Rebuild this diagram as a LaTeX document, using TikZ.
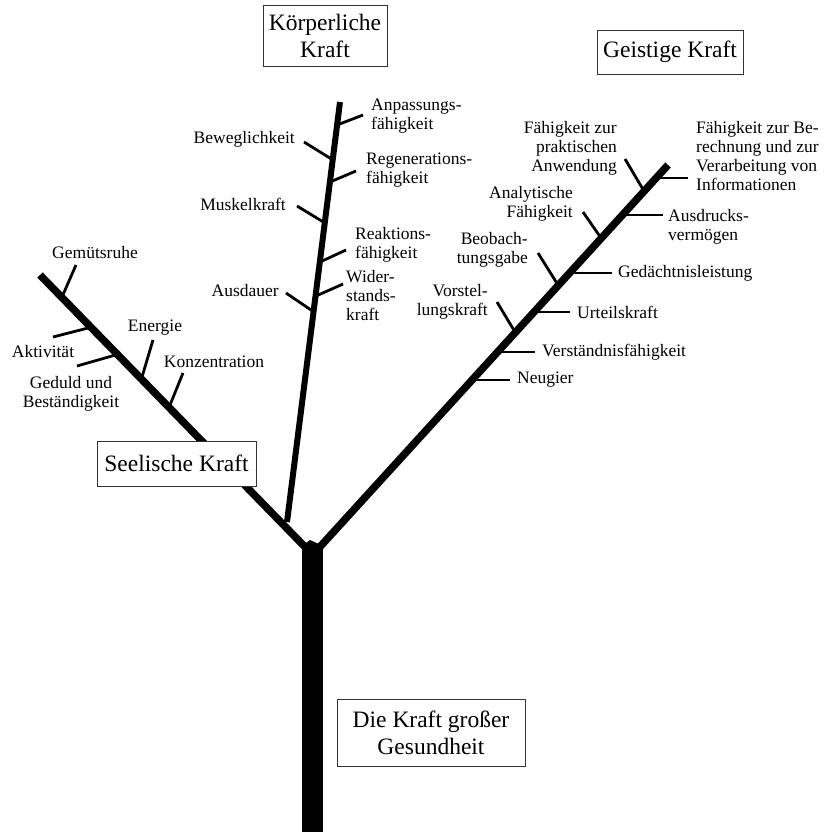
\documentclass[tikz,border=0pt]{standalone}
\usepackage{fontspec}
\setmainfont{Liberation Serif}
\newcommand{\lblfont}{\fontsize{17.5}{19}\selectfont}
\newcommand{\kraftfont}{\fontsize{23.5}{27}\selectfont}
\tikzset{
  twig/.style={line width=2.8pt},
  branch/.style={line width=7.5pt},
  lbl/.style={inner sep=0pt, font=\lblfont},
  kraftbox/.style={draw=black!80, line width=0.9pt, fill=white, inner sep=0pt,
    align=center, font=\kraftfont},
}
\begin{document}
\begin{tikzpicture}[x=1pt,y=-1pt]
\useasboundingbox (0,0) rectangle (828,832);
% stamm und aeste
\coordinate (ltop) at (40,275);
\coordinate (mtop) at (340,102);
\coordinate (mbot) at (287,522);
\coordinate (rtop) at (668,165);
\fill (302,545) rectangle (323,832);
\draw[branch] (307,549)--(ltop);
\draw[branch] (318,549)--(rtop);
\draw[line width=6pt] (mbot)--(mtop);
\fill (302,546)--(310,540)--(323,546)--cycle;
% seelische kraft
\draw[twig] (62,297)--(76,265);
\draw[twig] (92,327)--(53,337);
\draw[twig] (119,354)--(77,366);
\draw[twig] (142,377)--(153,340);
\draw[twig] (170,405)--(183,373);
\node[lbl] (gemuet) at (95,253) {Gemütsruhe};
\node[lbl] (aktiv) at (43,352) {Aktivität};
\node[lbl,align=center] (geduld) at (71,394) {Geduld und\\Beständigkeit};
\node[lbl] (energie) at (155,328) {Energie};
\node[lbl] (konz) at (214,362) {Konzentration};
% koerperliche kraft
\draw[twig] (337,125)--(363,115);
\draw[twig] (333,160)--(304,142);
\draw[twig] (330,182)--(356,171);
\draw[twig] (325,223)--(297,206);
\draw[twig] (320,262)--(346,250);
\draw[twig] (316,296)--(343,284);
\draw[twig] (314,312)--(286,293);
\node[lbl,anchor=west,align=left] (anpass) at (371,116) {Anpassungs-\\fähigkeit};
\node[lbl,anchor=east] (beweg) at (295,139) {Beweglichkeit};
\node[lbl,anchor=west,align=left] (regen) at (366,170) {Regenerations-\\fähigkeit};
\node[lbl,anchor=east] (muskel) at (286,204) {Muskelkraft};
\node[lbl,anchor=west,align=left] (reakt) at (355,245) {Reaktions-\\fähigkeit};
\node[lbl,anchor=west,align=left] (wider) at (346,296) {Wider-\\stands-\\kraft};
\node[lbl,anchor=east] (ausdauer) at (279,291) {Ausdauer};
% geistige kraft
\draw[twig] (644,191)--(625,159);
\draw[twig] (656,178)--(688,178);
\draw[twig] (622,215)--(663,215);
\draw[twig] (601,238)--(583,212);
\draw[twig] (558,285)--(538,253);
\draw[twig] (569,273)--(612,273);
\draw[twig] (515,332)--(497,302);
\draw[twig] (533,312)--(570,312);
\draw[twig] (497,352)--(535,352);
\draw[twig] (471,380)--(510,380);
\node[lbl,anchor=east,align=right] (prakt) at (617,148) {Fähigkeit zur\\praktischen\\Anwendung};
\node[lbl,anchor=west,align=left] (rechnen) at (696,156) {Fähigkeit zur Be-\\rechnung und zur\\Verarbeitung von\\Informationen};
\node[lbl,anchor=west,align=left] (ausdr) at (668,227) {Ausdrucks-\\vermögen};
\node[lbl,anchor=east,align=right] (analyt) at (573,204) {Analytische\\Fähigkeit};
\node[lbl,anchor=east,align=right] (beob) at (528,250) {Beobach-\\tungsgabe};
\node[lbl,anchor=west] (gedaecht) at (618,273) {Gedächtnisleistung};
\node[lbl,anchor=east,align=right] (vorst) at (488,302) {Vorstel-\\lungskraft};
\node[lbl,anchor=west] (urteil) at (577,312) {Urteilskraft};
\node[lbl,anchor=west] (verst) at (542,352) {Verständnisfähigkeit};
\node[lbl,anchor=west] (neugier) at (517,380) {Neugier};
% kaesten
\node[kraftbox,minimum width=124pt,minimum height=61pt] (koerper) at (325,35.5) {Körperliche\\Kraft};
\node[kraftbox,minimum width=146pt,minimum height=44pt] (geist) at (670,52) {Geistige Kraft};
\node[kraftbox,minimum width=159pt,minimum height=45pt] (seele) at (176.5,463.5) {Seelische Kraft};
\node[kraftbox,minimum width=188pt,minimum height=67pt] (gesund) at (431,732.5) {Die Kraft großer\\Gesundheit};
\end{tikzpicture}
\end{document}
